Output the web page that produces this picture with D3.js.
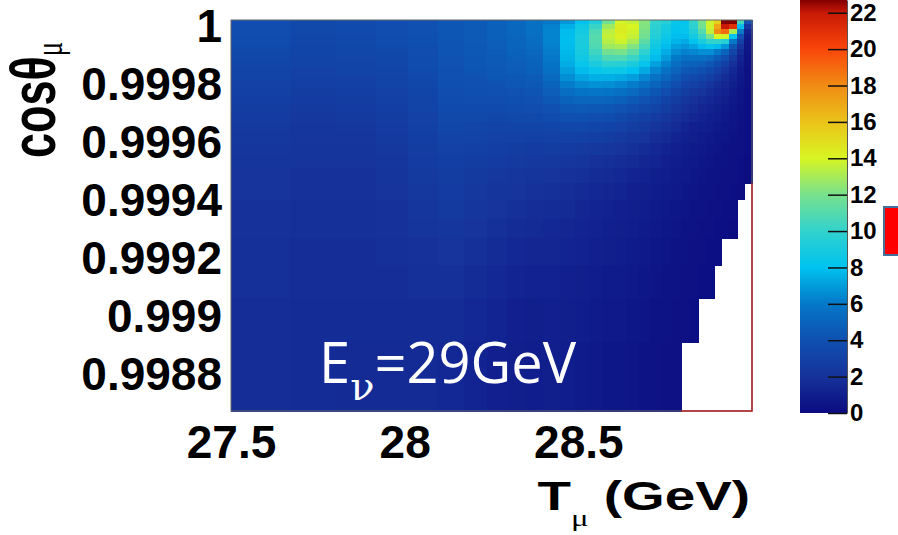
<!DOCTYPE html>
<html>
<head>
<meta charset="utf-8">
<script src="https://cdn.jsdelivr.net/npm/d3@7"></script>
<style>
  html, body { margin: 0; padding: 0; background: #fff; }
  svg { display: block; }
  .bold { font-family: "Liberation Sans", Arial, sans-serif; font-weight: bold; }
</style>
</head>
<body>
<svg id="chart" width="898" height="535"></svg>
<script>
// T_mu bin edges (GeV), left to right
var tEdges = [27.5, 27.670, 27.802, 27.917, 28.010, 28.096, 28.171, 28.237, 28.295, 28.349,
              28.398, 28.447, 28.490, 28.531, 28.568, 28.606, 28.640, 28.675, 28.706, 28.738,
              28.767, 28.796, 28.819, 28.845, 28.868, 28.891, 28.911, 28.934, 28.957, 28.977, 29.0];

// cos(theta_mu) bin edges, top to bottom
var cosEdges = [1.0, 0.999986, 0.999969, 0.999952, 0.999934, 0.999917, 0.999900, 0.999879,
                0.999858, 0.999838, 0.999814, 0.999789, 0.999765, 0.999738, 0.999710, 0.999679,
                0.999648, 0.999613, 0.999575, 0.999534, 0.999489, 0.999437, 0.999379, 0.999313,
                0.999247, 0.999154, 0.999040, 0.998888, 0.998650];

// bin contents, one row per cos bin (top first), null = empty bin
var counts = [
  [3.8,3.5,3.6,3.8,4.0,4.3,4.5,4.8,5.2,5.6, 6.0,6.8,8.0,9.2,11.8,13.9,13.6,12.3,10.0,9.5, 8.3,8.0,10.0,12.0,13.8,15.5,22.7,22.7,10.5,4.0],
  [3.8,3.5,3.6,3.8,4.0,4.3,4.5,4.8,5.2,5.6, 6.2,7.5,8.6,10.2,12.8,14.3,14.0,12.2,9.8,9.0, 8.2,8.3,9.8,11.8,13.8,17.0,22.0,21.0,7.8,2.2],
  [3.8,3.5,3.6,3.8,4.0,4.3,4.5,4.8,5.2,5.6, 6.3,7.8,8.8,10.8,13.4,14.4,13.8,12.0,9.6,8.8, 8.0,8.2,9.3,11.0,13.5,18.0,19.0,13.0,6.0,1.2],
  [3.7,3.4,3.5,3.7,3.9,4.3,4.5,4.8,5.1,5.5, 6.3,7.9,9.0,11.0,13.6,14.2,13.6,11.8,9.4,8.5, 7.9,7.8,8.8,10.2,12.0,14.0,13.8,8.0,4.0,0.8],
  [3.7,3.4,3.5,3.7,3.9,4.2,4.5,4.7,5.0,5.4, 6.3,7.9,9.1,11.0,13.3,13.8,13.0,11.2,9.0,8.2, 7.6,7.3,8.0,9.0,10.0,10.0,9.5,6.0,3.0,0.6],
  [3.6,3.3,3.4,3.6,3.8,4.2,4.4,4.7,5.0,5.3, 6.2,7.8,9.0,10.8,12.8,13.0,12.2,10.6,8.7,7.8, 7.1,6.8,7.2,7.8,8.2,7.8,6.8,4.3,2.2,0.5],
  [3.5,3.3,3.4,3.5,3.8,4.2,4.4,4.6,4.9,5.2, 6.1,7.7,8.9,10.4,11.8,12.0,11.2,9.8,8.3,7.4, 6.6,6.2,6.4,6.6,6.6,6.0,5.0,3.3,1.6,0.5],
  [3.4,3.2,3.3,3.4,3.7,4.1,4.3,4.5,4.8,5.0, 6.0,7.6,8.7,9.8,10.8,10.8,10.2,9.0,7.8,6.9, 6.0,5.6,5.6,5.6,5.3,4.6,3.8,2.5,1.2,0.4],
  [3.3,3.1,3.2,3.4,3.7,4.1,4.3,4.5,4.7,4.9, 5.8,7.4,8.3,9.1,9.7,9.6,9.1,8.2,7.1,6.3, 5.5,5.0,4.9,4.7,4.3,3.6,2.9,1.9,1.0,0.4],
  [3.2,3.0,3.1,3.3,3.6,4.0,4.2,4.4,4.6,4.8, 5.6,7.0,7.8,8.3,8.6,8.5,8.0,7.3,6.4,5.7, 5.0,4.4,4.2,3.9,3.5,2.9,2.3,1.5,0.8,0.3],
  [3.1,2.9,3.0,3.2,3.5,4.0,4.1,4.3,4.4,4.6, 5.3,6.6,7.2,7.5,7.5,7.3,7.0,6.4,5.7,5.1, 4.4,3.8,3.5,3.2,2.8,2.3,1.8,1.2,0.7,0.3],
  [3.0,2.8,2.9,3.1,3.4,3.9,4.0,4.1,4.3,4.4, 5.0,6.1,6.5,6.7,6.6,6.4,6.1,5.6,5.0,4.4, 3.8,3.2,2.9,2.6,2.2,1.8,1.4,1.0,0.6,0.3],
  [2.9,2.7,2.8,3.0,3.3,3.8,3.9,4.0,4.1,4.2, 4.7,5.5,5.8,5.9,5.8,5.6,5.3,4.8,4.3,3.8, 3.2,2.7,2.4,2.1,1.8,1.5,1.2,0.8,0.5,0.2],
  [2.8,2.6,2.7,2.9,3.2,3.7,3.8,3.8,3.9,4.0, 4.4,4.9,5.1,5.1,5.0,4.8,4.5,4.1,3.7,3.2, 2.7,2.3,2.0,1.7,1.5,1.2,1.0,0.7,0.5,0.2],
  [2.7,2.5,2.6,2.8,3.1,3.6,3.6,3.6,3.7,3.8, 4.0,4.4,4.5,4.4,4.3,4.1,3.8,3.5,3.1,2.7, 2.3,1.9,1.7,1.4,1.2,1.0,0.8,0.6,0.4,0.2],
  [2.6,2.4,2.5,2.7,3.0,3.5,3.5,3.4,3.5,3.5, 3.7,3.9,3.9,3.8,3.7,3.5,3.2,2.9,2.6,2.3, 1.9,1.6,1.4,1.2,1.0,0.9,0.7,0.5,0.4,0.2],
  [2.5,2.3,2.4,2.6,2.9,3.4,3.3,3.2,3.2,3.2, 3.3,3.4,3.4,3.3,3.2,3.0,2.7,2.5,2.2,1.9, 1.6,1.3,1.1,1.0,0.9,0.7,0.6,0.5,0.3,0.2],
  [2.4,2.3,2.3,2.5,2.8,3.2,3.1,3.0,3.0,2.9, 3.0,3.0,2.9,2.8,2.7,2.5,2.3,2.1,1.8,1.6, 1.3,1.1,1.0,0.8,0.7,0.6,0.5,0.4,0.3,0.2],
  [2.3,2.2,2.2,2.4,2.7,3.0,2.9,2.8,2.7,2.6, 2.7,2.6,2.5,2.4,2.3,2.1,1.9,1.7,1.5,1.3, 1.1,0.9,0.8,0.7,0.6,0.5,0.4,0.3,0.3,0.2],
  [2.2,2.1,2.1,2.3,2.6,2.8,2.7,2.6,2.5,2.4, 2.4,2.3,2.2,2.0,1.9,1.8,1.6,1.4,1.3,1.1, 0.9,0.8,0.7,0.6,0.5,0.4,0.4,0.3,0.2,0.1],
  [2.1,2.0,2.0,2.2,2.5,2.7,2.5,2.4,2.3,2.2, 2.1,2.0,1.9,1.7,1.6,1.5,1.3,1.2,1.0,0.9, 0.8,0.7,0.6,0.5,0.4,0.4,0.3,0.3,0.2,0.1],
  [2.1,2.0,2.0,2.1,2.4,2.6,2.4,2.2,2.1,2.0, 1.9,1.8,1.6,1.5,1.4,1.3,1.1,1.0,0.9,0.8, 0.7,0.6,0.5,0.4,0.4,0.3,0.3,0.2,0.1,null],
  [2.0,1.9,1.9,2.0,2.3,2.5,2.3,2.1,1.9,1.8, 1.7,1.6,1.4,1.3,1.2,1.1,1.0,0.9,0.8,0.7, 0.6,0.5,0.4,0.4,0.3,0.3,0.2,0.2,null,null],
  [2.0,1.9,1.9,2.0,2.2,2.3,2.1,1.9,1.7,1.6, 1.5,1.4,1.3,1.2,1.1,1.0,0.9,0.8,0.7,0.6, 0.5,0.4,0.4,0.3,0.3,0.2,0.2,0.1,null,null],
  [1.9,1.8,1.8,1.9,2.0,2.1,1.9,1.7,1.5,1.4, 1.4,1.3,1.2,1.1,1.0,0.9,0.8,0.7,0.6,0.5, 0.4,0.4,0.3,0.3,0.2,0.2,null,null,null,null],
  [1.9,1.8,1.8,1.8,1.9,1.9,1.7,1.5,1.3,1.2, 1.2,1.1,1.0,0.9,0.8,0.8,0.7,0.6,0.5,0.4, 0.4,0.3,0.3,0.2,0.2,null,null,null,null,null],
  [1.8,1.7,1.7,1.7,1.7,1.7,1.5,1.3,1.1,1.0, 1.1,1.0,0.9,0.8,0.7,0.7,0.6,0.5,0.4,0.4, 0.3,0.3,0.2,null,null,null,null,null,null,null],
  [1.8,1.7,1.6,1.6,1.6,1.5,1.3,1.1,1.0,0.9, 1.0,0.9,0.8,0.7,0.6,0.6,0.5,0.4,0.4,0.3, 0.3,null,null,null,null,null,null,null,null,null]
];

var xTicks = [27.5, 28, 28.5];
var yTicks = [1, 0.9998, 0.9996, 0.9994, 0.9992, 0.999, 0.9988];
var zTicks = [0, 2, 4, 6, 8, 10, 12, 14, 16, 18, 20, 22];

// rainbow palette
var paletteValues = [0, 2, 4, 6, 8, 10, 12, 14, 16, 18, 20, 22, 22.7];
var paletteColors = ["#0b0b80", "#16329a", "#0f50b0", "#0578c8", "#00c3f0", "#32d2cd", "#78e18c",
                     "#d7f523", "#ebc319", "#f08c14", "#fa460a", "#c81905", "#820000"];
var zMax = 22.7;

var svg = d3.select('#chart');

var frame = {left: 231, right: 752, top: 20, bottom: 411};

var x = d3.scaleLinear()
    .domain([27.5, 29.0])
    .range([frame.left, frame.right]);

var y = d3.scaleLinear()
    .domain([0.99865, 1.0])
    .range([frame.bottom, frame.top]);

var color = d3.scaleLinear()
    .domain(paletteValues)
    .range(paletteColors)
    .clamp(true);

// flatten the matrix into cells
var cells = [];
counts.forEach(function(row, r) {
    row.forEach(function(v, c) {
        if (v === null) return;
        cells.push({t0: tEdges[c], t1: tEdges[c + 1], c0: cosEdges[r], c1: cosEdges[r + 1], v: v});
    });
});

svg.append('g')
    .attr('shape-rendering', 'crispEdges')
  .selectAll('rect')
    .data(cells)
  .enter().append('rect')
    .attr('x', function(d) { return x(d.t0); })
    .attr('y', function(d) { return y(d.c0); })
    .attr('width', function(d) { return x(d.t1) - x(d.t0) + 0.5; })
    .attr('height', function(d) { return y(d.c1) - y(d.c0) + 0.5; })
    .style('fill', function(d) { return color(d.v); });

// frame
svg.append('rect')
    .attr('x', frame.left)
    .attr('y', frame.top)
    .attr('width', frame.right - frame.left)
    .attr('height', frame.bottom - frame.top)
    .attr('fill', 'none')
    .attr('stroke', '#666')
    .attr('stroke-width', 1);

// red outline of the empty corner
var lastRow = counts[counts.length - 1];
var firstEmpty = lastRow.indexOf(null);
svg.append('path')
    .attr('d', 'M' + x(29.0) + ',' + y(cosEdges[21]) + 'V' + y(cosEdges[cosEdges.length - 1]) + 'H' + x(tEdges[firstEmpty]))
    .attr('fill', 'none')
    .attr('stroke', '#b22222')
    .attr('stroke-width', 1.5);

// axes
var xAxis = d3.axisBottom(x)
    .tickValues(xTicks)
    .tickFormat(function(d) { return String(d); })
    .tickSize(0)
    .tickPadding(14);

var gx = svg.append('g')
    .attr('transform', 'translate(0,' + frame.bottom + ')')
    .call(xAxis);
gx.select('.domain').remove();
gx.selectAll('text')
    .attr('class', 'bold')
    .style('font-size', '46px')
    .attr('fill', '#000');

var yAxis = d3.axisLeft(y)
    .tickValues(yTicks)
    .tickFormat(function(d) { return String(d); })
    .tickSize(0)
    .tickPadding(9);

var gy = svg.append('g')
    .attr('transform', 'translate(' + frame.left + ',0)')
    .call(yAxis);
gy.select('.domain').remove();
gy.selectAll('text')
    .attr('class', 'bold')
    .attr('y', 7)
    .style('font-size', '46px')
    .attr('fill', '#000');

// axis titles
var xt = svg.append('g')
    .attr('transform', 'translate(750,510) scale(1.37,1)')
  .append('text')
    .attr('class', 'bold')
    .attr('text-anchor', 'end')
    .style('font-size', '40px');
xt.append('tspan').text('T');
xt.append('tspan')
    .attr('dy', 16)
    .style('font-family', '"Liberation Serif", serif')
    .style('font-weight', 'normal')
    .style('font-size', '24px')
    .text('\u03bc');
xt.append('tspan').attr('dy', -16).text(' (GeV)');

var yt = svg.append('g')
    .attr('transform', 'translate(55,158) scale(1.38,1) rotate(-90)')
  .append('text')
    .attr('class', 'bold')
    .style('font-size', '45px');
yt.append('tspan').text('cos\u03b8');
yt.append('tspan')
    .attr('dy', 5)
    .style('font-family', '"Liberation Serif", serif')
    .style('font-weight', 'normal')
    .style('font-size', '27px')
    .text('\u03bc');

// E_nu label inside the plot
var ev = svg.append('text')
    .attr('x', 319)
    .attr('y', 383)
    .attr('fill', '#fff')
    .style('font-family', '"Open Sans", sans-serif')
    .style('font-size', '56px');
ev.append('tspan').text('E');
ev.append('tspan')
    .attr('dy', 17)
    .style('font-family', '"DejaVu Serif", serif')
    .style('font-size', '40px')
    .text('\u03bd');
ev.append('tspan').attr('dy', -17).text('=29GeV');

// colour bar
var bar = {left: 800, right: 847, top: 0, bottom: 413};
var z = d3.scaleLinear()
    .domain([0, zMax])
    .range([bar.bottom, bar.top]);

var grad = svg.append('defs').append('linearGradient')
    .attr('id', 'zgrad')
    .attr('x1', 0).attr('y1', 1)
    .attr('x2', 0).attr('y2', 0);
grad.selectAll('stop')
    .data(paletteValues)
  .enter().append('stop')
    .attr('offset', function(d) { return d / zMax; })
    .attr('stop-color', function(d) { return color(d); });

svg.append('rect')
    .attr('x', bar.left)
    .attr('y', bar.top)
    .attr('width', bar.right - bar.left)
    .attr('height', bar.bottom - bar.top)
    .attr('fill', 'url(#zgrad)');

var zAxis = d3.axisRight(z)
    .tickValues(zTicks)
    .tickSizeInner(-19)
    .tickSizeOuter(0)
    .tickPadding(3);

var gz = svg.append('g')
    .attr('transform', 'translate(' + bar.right + ',0)')
    .call(zAxis);
gz.select('.domain').attr('stroke', '#555');
gz.selectAll('.tick line').attr('stroke', '#111').attr('stroke-width', 1.5);
gz.selectAll('text')
    .attr('class', 'bold')
    .style('font-size', '24px')
    .attr('fill', '#000');

// red marker box at the right edge
svg.append('rect')
    .attr('x', 884)
    .attr('y', 207)
    .attr('width', 20)
    .attr('height', 48)
    .attr('fill', '#ff0000')
    .attr('stroke', '#41719c')
    .attr('stroke-width', 2);
</script>
</body>
</html>
